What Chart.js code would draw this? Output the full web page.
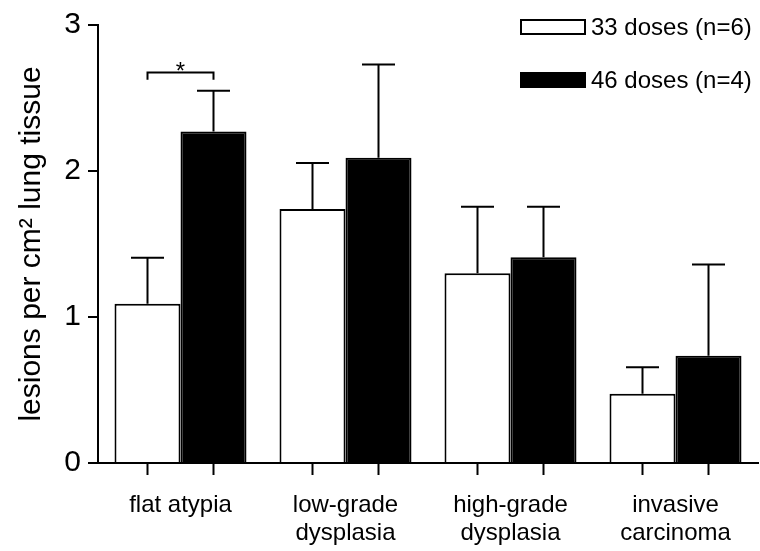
<!DOCTYPE html>
<html>
<head>
<meta charset="utf-8">
<script src="https://cdn.jsdelivr.net/npm/chart.js@4.4.1/dist/chart.umd.min.js"></script>
<style>
  html, body { margin: 0; padding: 0; background: #fff; }
  #wrap { width: 760px; height: 551px; position: relative; }
</style>
</head>
<body>
<div id="wrap"><canvas id="c" width="760" height="551"></canvas></div>
<script>
// ---- data ----
const categories = [['flat atypia'], ['low-grade', 'dysplasia'], ['high-grade', 'dysplasia'], ['invasive', 'carcinoma']];
const seriesNames = ['33 doses (n=6)', '46 doses (n=4)'];
const dose33Mean = [1.09, 1.74, 1.30, 0.475];
const dose33Err  = [0.315, 0.315, 0.455, 0.18];
const dose46Mean = [2.27, 2.09, 1.41, 0.735];
const dose46Err  = [0.28, 0.64, 0.345, 0.625];
const yTicks = [0, 1, 2, 3];
const significance = { category: 0, level: 2.675, drop: 0.05, label: '*' };

const FONT = '"Liberation Sans", Arial, Helvetica, sans-serif';

const errorsByDataset = [dose33Err, dose46Err];

const errorBarPlugin = {
  id: 'errorBars',
  afterDatasetsDraw(chart) {
    const ctx = chart.ctx;
    const y = chart.scales.y;
    ctx.save();
    ctx.strokeStyle = '#000';
    ctx.lineWidth = 2;
    chart.data.datasets.forEach((ds, i) => {
      const meta = chart.getDatasetMeta(i);
      meta.data.forEach((bar, j) => {
        const v = ds.data[j];
        const top = y.getPixelForValue(v + errorsByDataset[i][j]);
        const base = y.getPixelForValue(v);
        const half = bar.width / 4;
        ctx.beginPath();
        ctx.moveTo(bar.x, base);
        ctx.lineTo(bar.x, top);
        ctx.moveTo(bar.x - half, top);
        ctx.lineTo(bar.x + half, top);
        ctx.stroke();
      });
    });
    // x tick marks at bar centres
    const bottom = chart.chartArea.bottom;
    chart.data.datasets.forEach((ds, i) => {
      chart.getDatasetMeta(i).data.forEach(bar => {
        ctx.beginPath();
        ctx.moveTo(bar.x, bottom);
        ctx.lineTo(bar.x, bottom + 12);
        ctx.stroke();
      });
    });
    // significance bracket
    const b0 = chart.getDatasetMeta(0).data[significance.category];
    const b1 = chart.getDatasetMeta(1).data[significance.category];
    const ly = y.getPixelForValue(significance.level);
    const ld = y.getPixelForValue(significance.level - significance.drop);
    ctx.beginPath();
    ctx.moveTo(b0.x, ld);
    ctx.lineTo(b0.x, ly);
    ctx.lineTo(b1.x, ly);
    ctx.lineTo(b1.x, ld);
    ctx.stroke();
    ctx.fillStyle = '#000';
    ctx.font = '24px ' + FONT;
    ctx.textAlign = 'center';
    ctx.textBaseline = 'alphabetic';
    ctx.fillText(significance.label, (b0.x + b1.x) / 2, ly + 7);
    // legend
    ctx.font = '24px ' + FONT;
    ctx.textAlign = 'left';
    ctx.textBaseline = 'middle';
    const rows = [27, 80];
    chart.data.datasets.forEach((ds, i) => {
      const cy = rows[i];
      ctx.fillStyle = ds.backgroundColor;
      ctx.fillRect(521, cy - 7, 64, 14);
      ctx.strokeStyle = '#000';
      ctx.lineWidth = 2;
      ctx.strokeRect(521, cy - 7, 64, 14);
      ctx.fillStyle = '#000';
      ctx.fillText(ds.label, 591, cy + 1);
    });
    ctx.restore();
  }
};

new Chart(document.getElementById('c'), {
  type: 'bar',
  data: {
    labels: categories,
    datasets: [
      { label: seriesNames[0], data: dose33Mean, backgroundColor: '#ffffff', borderColor: '#000000', borderWidth: 2, categoryPercentage: 0.8, barPercentage: 1.0 },
      { label: seriesNames[1], data: dose46Mean, backgroundColor: '#000000', borderColor: '#000000', borderWidth: 2, categoryPercentage: 0.8, barPercentage: 1.0 }
    ]
  },
  options: {
    responsive: false,
    animation: false,
    devicePixelRatio: 1,
    layout: { padding: { left: 0, top: 23, right: 2, bottom: 0 } },
    plugins: { legend: { display: false }, tooltip: { enabled: false } },
    scales: {
      x: {
        offset: true,
        grid: { display: false, drawTicks: false },
        border: { display: true, color: '#000', width: 2 },
        ticks: { color: '#000', font: { family: FONT, size: 24, lineHeight: 1.17 }, padding: 28, maxRotation: 0, autoSkip: false },
        afterFit(scale) { scale.height = 88; }
      },
      y: {
        min: 0, max: 3,
        grid: { display: true, drawOnChartArea: false, drawTicks: true, tickLength: 10, color: '#000', lineWidth: 2 },
        border: { display: true, color: '#000', width: 2 },
        afterBuildTicks(scale) { scale.ticks = yTicks.map(v => ({ value: v })); },
        ticks: { color: '#000', font: { family: FONT, size: 30 }, padding: 7 },
        title: { display: true, text: 'lesions per cm² lung tissue', color: '#000', font: { family: FONT, size: 30 }, padding: { top: 14, bottom: 0 } },
        afterFit(scale) { scale.width = 98; }
      }
    }
  },
  plugins: [errorBarPlugin]
});
</script>
</body>
</html>
